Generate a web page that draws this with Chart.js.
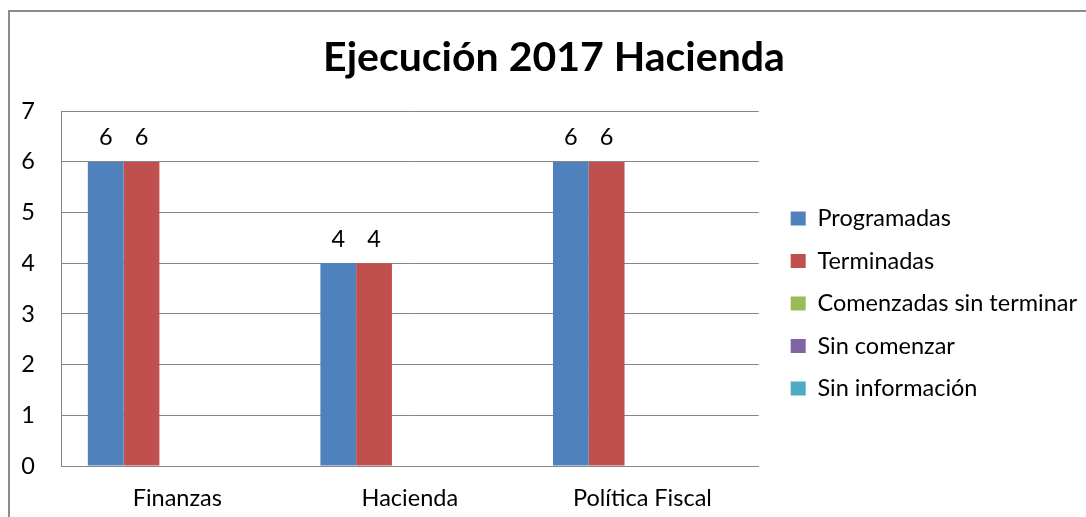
<!DOCTYPE html>
<html><head><meta charset="utf-8">
<script src="https://cdn.jsdelivr.net/npm/chart.js@4/dist/chart.umd.min.js"></script>
<style>
html,body{margin:0;padding:0;background:#fff;overflow:hidden;width:1086px;height:517px;}
#frame{position:absolute;left:8px;top:10px;width:1100px;height:530px;border:2px solid #8c8c8c;box-sizing:border-box;}
#wrap{position:absolute;left:0;top:0;width:1086px;height:517px;}
</style></head>
<body>
<div id="frame"></div>
<div id="wrap"><canvas id="c" width="1086" height="517"></canvas></div>
<script>
const title = 'Ejecución 2017 Hacienda';
const categories = ['Finanzas', 'Hacienda', 'Política Fiscal'];
const seriesNames = ['Programadas', 'Terminadas', 'Comenzadas sin terminar', 'Sin comenzar', 'Sin información'];
const programadas = [6, 4, 6];
const terminadas = [6, 4, 6];
const comenzadasSinTerminar = [null, null, null];
const sinComenzar = [null, null, null];
const sinInformacion = [null, null, null];
const seriesColors = ['#4F81BD', '#C0504D', '#9BBB59', '#8064A2', '#4BACC6'];
const yTicks = [0, 1, 2, 3, 4, 5, 6, 7];

const FONT = 'Lato, "Open Sans", sans-serif';
const FS = 23.5;
const seriesValues = [programadas, terminadas, comenzadasSinTerminar, sinComenzar, sinInformacion];

const valueLabels = {
  id: 'valueLabels',
  afterDatasetsDraw(chart) {
    const ctx = chart.ctx;
    ctx.save();
    ctx.font = FS + 'px ' + FONT;
    ctx.fillStyle = '#000';
    ctx.textAlign = 'center';
    ctx.textBaseline = 'middle';
    chart.data.datasets.forEach((ds, i) => {
      const meta = chart.getDatasetMeta(i);
      meta.data.forEach((bar, j) => {
        const v = ds.data[j];
        if (v === null || v === undefined || v === 0) return;
        ctx.fillText(String(v), bar.x, bar.y - 24);
      });
    });
    ctx.restore();
  }
};

// widen the gap between the plot area and the legend, and lower the legend a bit
const legendPlacement = {
  id: 'legendPlacement',
  afterInit(chart) {
    const lg = chart.legend;
    const orig = lg.fit.bind(lg);
    lg.fit = function () { orig(); this.width += 12; };
  },
  afterLayout(chart) {
    const lg = chart.legend;
    lg.left += 13; lg.right += 13;
    lg.top += 15; lg.bottom += 15;
  }
};

new Chart(document.getElementById('c'), {
  type: 'bar',
  data: {
    labels: categories,
    datasets: seriesNames.map((n, i) => ({
      label: n,
      data: seriesValues[i],
      backgroundColor: seriesColors[i],
      borderWidth: 0,
      categoryPercentage: 5 / 6.5,
      barPercentage: 1
    }))
  },
  options: {
    responsive: false,
    animation: false,
    layout: { padding: { left: 22, right: 0, top: 0, bottom: 0 } },
    plugins: {
      title: {
        display: true,
        text: title,
        color: '#000',
        font: { family: FONT, size: 41, weight: 'bold', lineHeight: 1.2 },
        padding: { top: 33, bottom: 29 }
      },
      legend: {
        position: 'right',
        fullSize: false,
        maxWidth: 500,
        labels: {
          color: '#000',
          font: { family: FONT, size: FS },
          boxWidth: 15,
          boxHeight: 14,
          padding: 19
        }
      },
      tooltip: { enabled: false }
    },
    scales: {
      x: {
        grid: { display: false, drawTicks: false },
        border: { color: '#868686', width: 1 },
        ticks: { color: '#000', font: { family: FONT, size: FS }, padding: 18 },
        afterFit(s) { s.height = 51; }
      },
      y: {
        min: 0, max: 7,
        afterBuildTicks(scale) { scale.ticks = yTicks.map(v => ({ value: v })); },
        grid: { color: '#868686', drawTicks: false },
        border: { color: '#868686', width: 1 },
        ticks: { color: '#000', font: { family: FONT, size: FS }, padding: 26 },
        afterFit(s) { s.width = 39; }
      }
    }
  },
  plugins: [valueLabels, legendPlacement]
});
</script>
</body></html>
